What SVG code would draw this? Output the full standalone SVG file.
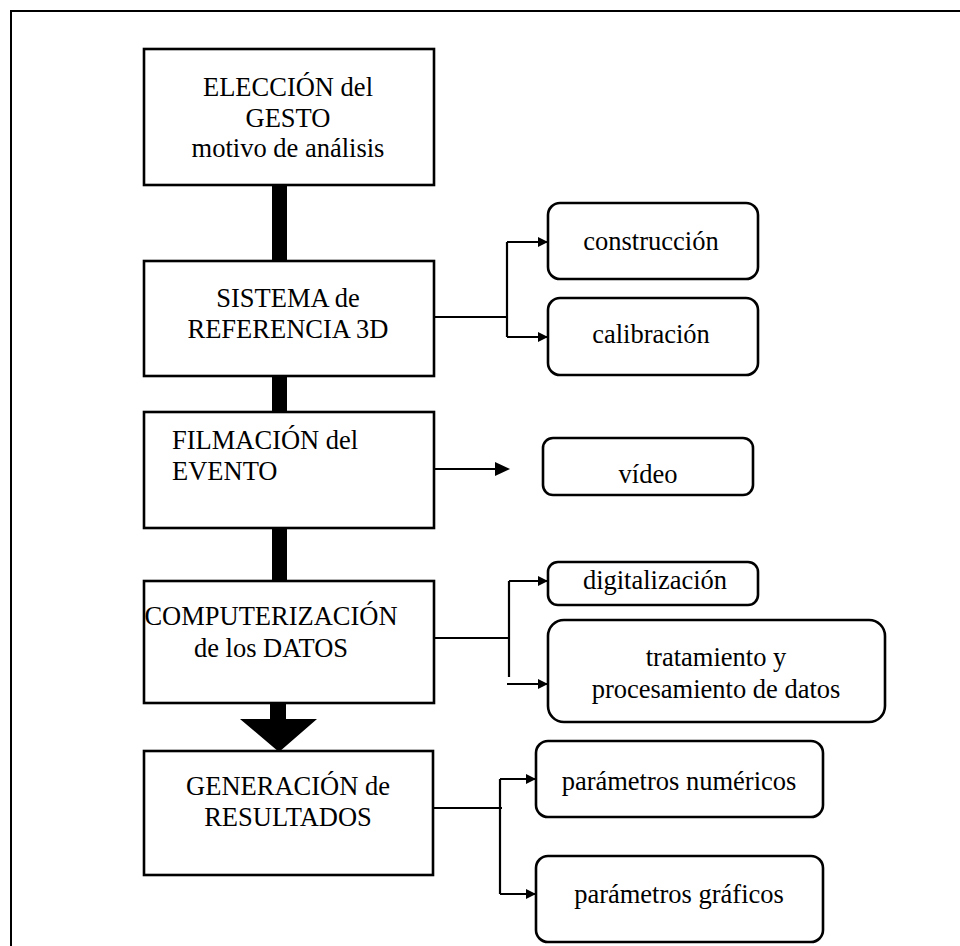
<svg xmlns="http://www.w3.org/2000/svg" width="960" height="946" viewBox="0 0 960 946">
  <defs>
    <style>
      .frame { fill: none; stroke: #000; stroke-width: 2; }
      .box { fill: #fff; stroke: #000; stroke-width: 2.6; }
      .rbox { fill: #fff; stroke: #000; stroke-width: 2.6; }
      .wire { fill: none; stroke: #000; stroke-width: 2.2; }
      .bar { fill: #000; }
      .c { text-anchor: middle; }
    </style>
    <marker id="tip" viewBox="0 0 10 10" refX="10" refY="5" markerWidth="10" markerHeight="10" markerUnits="userSpaceOnUse" orient="auto">
      <path d="M0,0 L10,5 L0,10 Z" fill="#000"/>
    </marker>
  </defs>

  <rect width="960" height="946" fill="#fff"/>
  <!-- outer page frame -->
  <path class="frame" d="M11,946 V11 H960"/>

  <!-- connectors -->
  <g id="connectors">
    <rect class="bar" x="272" y="185" width="15" height="76"/>
    <rect class="bar" x="272" y="376" width="15" height="36"/>
    <rect class="bar" x="272" y="528" width="15" height="53"/>
    <path class="bar" d="M270,703 H286 V719 H317 L279,752 L240,719 H270 Z"/>

    <path class="wire" d="M434,317 H507 M507,242 V337"/>
    <path class="wire" d="M507,242 H548" marker-end="url(#tip)"/>
    <path class="wire" d="M507,337 H548" marker-end="url(#tip)"/>

    <path class="wire" d="M434,469 H497"/>
    <path d="M495,462 L510,469 L495,476 Z" fill="#000"/>

    <path class="wire" d="M434,638 H509 M509,581 V677"/>
    <path class="wire" d="M509,581 H548" marker-end="url(#tip)"/>
    <path class="wire" d="M507,684 H548" marker-end="url(#tip)"/>

    <path class="wire" d="M433,808 H502 M500,779 V894"/>
    <path class="wire" d="M500,779 H536" marker-end="url(#tip)"/>
    <path class="wire" d="M500,894 H536" marker-end="url(#tip)"/>
  </g>

  <g font-family="'Liberation Serif', 'Times New Roman', serif" font-size="26.5" fill="#000">
    <!-- main process steps -->
    <g id="eleccion">
      <rect class="box" x="144" y="49" width="290" height="136"/>
      <text class="c" x="288" y="96">ELECCIÓN del</text>
      <text class="c" x="288" y="127">GESTO</text>
      <text class="c" x="288" y="157">motivo de análisis</text>
    </g>
    <g id="sistema">
      <rect class="box" x="144" y="261" width="290" height="115"/>
      <text class="c" x="288" y="307">SISTEMA de</text>
      <text class="c" x="288" y="338">REFERENCIA 3D</text>
    </g>
    <g id="filmacion">
      <rect class="box" x="144" y="412" width="290" height="116"/>
      <text x="172" y="449">FILMACIÓN del</text>
      <text x="172" y="480">EVENTO</text>
    </g>
    <g id="computerizacion">
      <rect class="box" x="144" y="581" width="290" height="122"/>
      <text class="c" x="271" y="625">COMPUTERIZACIÓN</text>
      <text class="c" x="271" y="657">de los DATOS</text>
    </g>
    <g id="generacion">
      <rect class="box" x="144" y="751" width="289" height="124"/>
      <text class="c" x="288" y="795">GENERACIÓN de</text>
      <text class="c" x="288" y="826">RESULTADOS</text>
    </g>

    <!-- outputs -->
    <g id="construccion">
      <rect class="rbox" x="548" y="203" width="210" height="76" rx="12"/>
      <text class="c" x="651" y="250">construcción</text>
    </g>
    <g id="calibracion">
      <rect class="rbox" x="548" y="298" width="210" height="77" rx="12"/>
      <text class="c" x="651" y="343">calibración</text>
    </g>
    <g id="video">
      <rect class="rbox" x="543" y="438" width="210" height="57" rx="10"/>
      <text class="c" x="648" y="483">vídeo</text>
    </g>
    <g id="digitalizacion">
      <rect class="rbox" x="548" y="562" width="210" height="43" rx="10"/>
      <text class="c" x="655" y="589">digitalización</text>
    </g>
    <g id="tratamiento">
      <rect class="rbox" x="548" y="620" width="337" height="102" rx="16"/>
      <text class="c" x="716" y="666">tratamiento y</text>
      <text class="c" x="716" y="698">procesamiento de datos</text>
    </g>
    <g id="numericos">
      <rect class="rbox" x="536" y="741" width="287" height="76" rx="12"/>
      <text class="c" x="679" y="790">parámetros numéricos</text>
    </g>
    <g id="graficos">
      <rect class="rbox" x="536" y="856" width="287" height="86" rx="12"/>
      <text class="c" x="679" y="903">parámetros gráficos</text>
    </g>
  </g>
</svg>
